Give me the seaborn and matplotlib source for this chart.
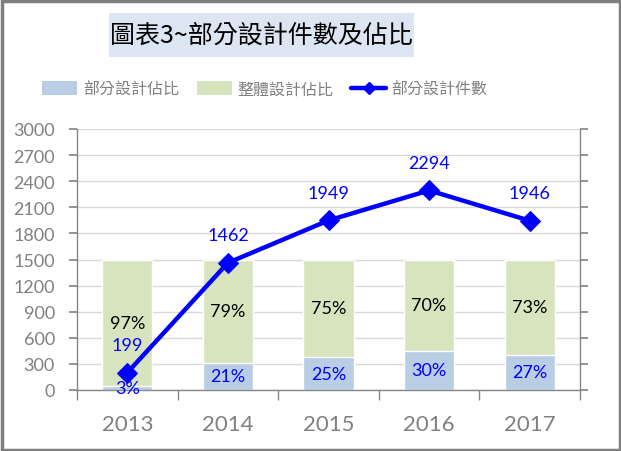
import numpy as np
import pandas as pd
import matplotlib
matplotlib.use("Agg")
import matplotlib.pyplot as plt
from matplotlib.patches import Rectangle, Patch
from matplotlib.lines import Line2D
import seaborn as sns

years = ["2013", "2014", "2015", "2016", "2017"]
partial_pct = [3, 21, 25, 30, 27]
overall_pct = [97, 79, 75, 70, 73]
partial_count = [199, 1462, 1949, 2294, 1946]
yticks = [0, 300, 600, 900, 1200, 1500, 1800, 2100, 2400, 2700, 3000]
title = "圖表3~部分設計件數及佔比"
legend_labels = ["部分設計佔比", "整體設計佔比", "部分設計件數"]
pct_scale = 1500  # 100% drawn at this height

sns.set_theme(style="white")
plt.rcParams['font.family'] = ['Lato', 'Noto Sans CJK TC', 'DejaVu Sans']

C_BLUE_BAR = "#B9CDE5"
C_GREEN_BAR = "#D7E4BD"
C_LINE = "#0000FF"
C_GRAY = "#808080"

W, H = 621, 452
fig = plt.figure(figsize=(W / 100, H / 100), dpi=100)
ax = fig.add_axes([77 / W, 1 - 391 / H, (580 - 77) / W, (391 - 130) / H])

df = pd.DataFrame({
    "year": years,
    "total": [(p + o) / 100 * pct_scale for p, o in zip(partial_pct, overall_pct)],
    "partial": [p / 100 * pct_scale for p in partial_pct],
})
sns.barplot(data=df, x="year", y="total", color=C_GREEN_BAR, width=0.5,
            saturation=1, ax=ax, zorder=2)
sns.barplot(data=df, x="year", y="partial", color=C_BLUE_BAR, width=0.5,
            saturation=1, ax=ax, zorder=2)

pos = np.arange(len(years))
sns.lineplot(x=pos, y=partial_count, color=C_LINE, lw=3.2, marker="D",
             markersize=10, markeredgecolor=C_LINE, ax=ax, zorder=4)

for i in range(len(years)):
    ph = partial_pct[i] / 100 * pct_scale
    th = (partial_pct[i] + overall_pct[i]) / 100 * pct_scale
    ax.text(pos[i], (ph + th) / 2, f"{overall_pct[i]}%", ha="center", va="center",
            fontsize=13, color="black", zorder=5)
    ax.text(pos[i], ph / 2, f"{partial_pct[i]}%", ha="center", va="center",
            fontsize=13, color=C_LINE, zorder=5)
    ax.annotate(str(partial_count[i]), (pos[i], partial_count[i]), xytext=(0, 20),
                textcoords="offset points", ha="center", va="center",
                fontsize=13, color=C_LINE, zorder=5)

ax.set_xlim(-0.5, len(years) - 0.5)
ax.set_ylim(0, 3000)
ax.set_yticks(yticks)
ax.set_xlabel("")
ax.set_ylabel("")
ax.yaxis.grid(True, color="#D9D9D9", lw=1, zorder=0)
ax.set_axisbelow(True)
for s in ["left", "right", "bottom"]:
    ax.spines[s].set_visible(True)
    ax.spines[s].set_color("#868686")
    ax.spines[s].set_linewidth(1)
ax.spines["top"].set_visible(False)
ax.tick_params(axis="y", which="major", left=True, right=True, labelright=False,
               direction="out", length=6, color="#868686", labelsize=13,
               labelcolor=C_GRAY, pad=10)
ax.set_xticks(pos)
ax.set_xticklabels(years)
ax.set_xticks(np.arange(-0.5, len(years)), minor=True)
ax.tick_params(axis="x", which="major", length=0, labelsize=16, labelcolor=C_GRAY, pad=17)
ax.tick_params(axis="x", which="minor", bottom=True, length=7, direction="out",
               color="#868686")

# legend
handles = [Patch(facecolor=C_BLUE_BAR, edgecolor="none"),
           Patch(facecolor=C_GREEN_BAR, edgecolor="none"),
           Line2D([0], [0], color=C_LINE, lw=3.2, marker="D", markersize=6)]
fig.legend(handles, legend_labels, loc="center", bbox_to_anchor=(265 / W, 1 - 90 / H),
           ncol=3, frameon=False, fontsize=11.5, labelcolor=C_GRAY,
           handlelength=2.2, handleheight=0.9, columnspacing=1.1, handletextpad=0.35)

# title box
fig.patches.append(Rectangle((109 / W, 1 - 58 / H), (414 - 109) / W, 44 / H,
                             transform=fig.transFigure, facecolor="#DCE6F2",
                             edgecolor="none", zorder=0))
fig.text(261.5 / W, 1 - 36 / H, title, ha="center", va="center", fontsize=18,
         color="black", family=['Noto Sans CJK TC', 'DejaVu Sans'])

# figure border
fig.patches.append(Rectangle((1.5 / W, 1.5 / H), (W - 3) / W, (H - 3) / H,
                             transform=fig.transFigure, facecolor="none",
                             edgecolor="#7F7F7F", lw=2.5, zorder=10))

fig.savefig("out.png", dpi=100)
